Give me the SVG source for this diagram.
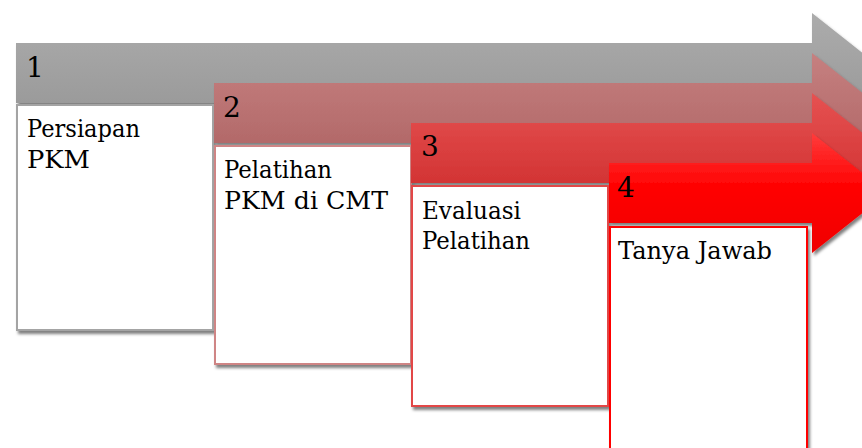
<svg xmlns="http://www.w3.org/2000/svg" width="862" height="448" viewBox="0 0 862 448">
  <defs>
    <linearGradient id="g1" x1="0" y1="0" x2="0" y2="1">
      <stop offset="0" stop-color="#acacac"/>
      <stop offset="1" stop-color="#959595"/>
    </linearGradient>
    <linearGradient id="g2" x1="0" y1="0" x2="0" y2="1">
      <stop offset="0" stop-color="#c68080"/>
      <stop offset="1" stop-color="#ac6262"/>
    </linearGradient>
    <linearGradient id="g3" x1="0" y1="0" x2="0" y2="1">
      <stop offset="0" stop-color="#e65252"/>
      <stop offset="1" stop-color="#cc2a2a"/>
    </linearGradient>
    <linearGradient id="g4" x1="0" y1="0" x2="0" y2="1">
      <stop offset="0" stop-color="#ff3c3c"/>
      <stop offset="0.45" stop-color="#ff0202"/>
      <stop offset="1" stop-color="#f00000"/>
    </linearGradient>
    <filter id="sh" x="-10%" y="-10%" width="130%" height="130%">
      <feDropShadow dx="2" dy="3" stdDeviation="1.6" flood-color="#000" flood-opacity="0.5"/>
    </filter>
  </defs>
  <style>
    .t { font-family: 'DejaVu Serif', serif; fill: #000; }
    .num { font-size: 28px; }
    .lbl { font-size: 24px; }
    .box { fill: #ffffff; stroke-width: 2; }
  </style>
  <rect width="862" height="448" fill="#ffffff"/>

  <g id="node1">
    <path d="M16 43 H812 V13 L888 73 L812 133 V103 H16 Z" fill="url(#g1)" filter="url(#sh)"/>
    <text class="t num" x="26" y="77">1</text>
    <rect class="box" x="17" y="105" width="196" height="225" stroke="#a4a4a4" filter="url(#sh)"/>
    <text class="t lbl" x="27" y="137" textLength="113" lengthAdjust="spacingAndGlyphs">Persiapan</text>
    <text class="t lbl" x="27" y="168" textLength="63" lengthAdjust="spacingAndGlyphs">PKM</text>
  </g>

  <g id="node2">
    <path d="M214 83 H812 V53 L888 113 L812 173 V143 H214 Z" fill="url(#g2)" filter="url(#sh)"/>
    <text class="t num" x="223" y="117">2</text>
    <rect class="box" x="215" y="146" width="196" height="218" stroke="#cf8585" filter="url(#sh)"/>
    <text class="t lbl" x="224" y="178" textLength="108" lengthAdjust="spacingAndGlyphs">Pelatihan</text>
    <text class="t lbl" x="224" y="209" textLength="164" lengthAdjust="spacingAndGlyphs">PKM di CMT</text>
  </g>

  <g id="node3">
    <path d="M411 123 H812 V93 L888 153 L812 213 V183 H411 Z" fill="url(#g3)" filter="url(#sh)"/>
    <text class="t num" x="421" y="156">3</text>
    <rect class="box" x="412" y="186" width="196" height="220" stroke="#e24646" filter="url(#sh)"/>
    <text class="t lbl" x="422" y="219" textLength="99" lengthAdjust="spacingAndGlyphs">Evaluasi</text>
    <text class="t lbl" x="422" y="249" textLength="108" lengthAdjust="spacingAndGlyphs">Pelatihan</text>
  </g>

  <g id="node4">
    <path d="M609 163 H812 V133 L888 193 L812 253 V223 H609 Z" fill="url(#g4)" filter="url(#sh)"/>
    <text class="t num" x="617" y="197">4</text>
    <rect class="box" x="610" y="227" width="197" height="240" stroke="#ff0000" filter="url(#sh)"/>
    <text class="t lbl" x="618" y="259" textLength="154" lengthAdjust="spacingAndGlyphs">Tanya Jawab</text>
  </g>
</svg>
